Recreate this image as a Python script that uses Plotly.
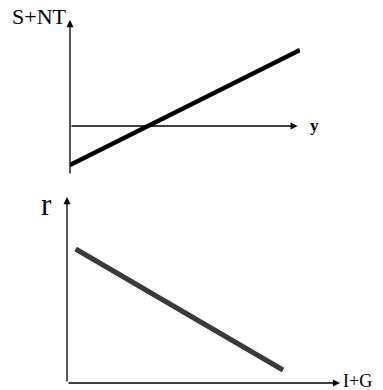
import plotly.graph_objects as go
from plotly.subplots import make_subplots

# top panel: S+NT schedule against income y
income = [0, 10]
s_nt = [-3.9, 7.6]

# bottom panel: r against I+G
i_g = [0.4, 10]
rate = [6.7, 0.65]

W, H = 383, 390


def px_x(p):
    return p / W


def px_y(p):
    return 1 - p / H


fig = make_subplots(rows=2, cols=1)

fig.add_trace(go.Scatter(x=income, y=s_nt, mode="lines",
                         line=dict(color="black", width=4.5)), row=1, col=1)
fig.add_trace(go.Scatter(x=i_g, y=rate, mode="lines",
                         line=dict(color="#3a3a3a", width=5)), row=2, col=1)

hidden = dict(visible=False, fixedrange=True)
fig.update_layout(
    width=W, height=H, autosize=False,
    margin=dict(l=0, r=0, t=0, b=0),
    paper_bgcolor="white", plot_bgcolor="rgba(0,0,0,0)",
    showlegend=False,
    xaxis=dict(domain=[px_x(70), px_x(300)], range=[0, 10], **hidden),
    yaxis=dict(domain=[px_y(175), px_y(20)], range=[-4.9, 10.6], **hidden),
    xaxis2=dict(domain=[px_x(67), px_x(340)], range=[0, 12.64], **hidden),
    yaxis2=dict(domain=[px_y(383), px_y(197)], range=[0, 9.3], **hidden),
)

ax_style = dict(showarrow=True, arrowhead=2, arrowsize=1.1, arrowwidth=1.3,
                arrowcolor="black", text="", standoff=0, startstandoff=0)

# axes with arrowheads
fig.add_annotation(x=0, y=10.6, ax=0, ay=-4.9, xref="x", yref="y",
                   axref="x", ayref="y", **ax_style)
fig.add_annotation(x=9.9, y=0, ax=0, ay=0, xref="x", yref="y",
                   axref="x", ayref="y", **ax_style)
fig.add_annotation(x=0, y=9.3, ax=0, ay=0, xref="x2", yref="y2",
                   axref="x2", ayref="y2", **ax_style)
fig.add_annotation(x=12.64, y=0, ax=0, ay=0, xref="x2", yref="y2",
                   axref="x2", ayref="y2", **ax_style)

serif = "Liberation Serif"
fig.add_annotation(x=0, y=10.6, xref="x", yref="y", text="S+NT",
                   showarrow=False, xanchor="right", yanchor="middle", xshift=-1, yshift=4,
                   font=dict(family=serif, size=22, color="black"))
fig.add_annotation(x=9.9, y=0, xref="x", yref="y", text="<b>y</b>",
                   showarrow=False, xanchor="left", yanchor="middle", xshift=10, yshift=1,
                   font=dict(family=serif, size=17, color="black"))
fig.add_annotation(x=0, y=9.3, xref="x2", yref="y2", text="r",
                   showarrow=False, xanchor="right", yanchor="middle", xshift=-13, yshift=-7,
                   font=dict(family=serif, size=31, color="black"))
fig.add_annotation(x=12.64, y=0, xref="x2", yref="y2", text="I+G",
                   showarrow=False, xanchor="left", yanchor="middle", xshift=1, yshift=2,
                   font=dict(family=serif, size=18, color="black"))

fig.write_html("out.html", config={"displayModeBar": False},
               post_script="document.body.style.margin='0';")
